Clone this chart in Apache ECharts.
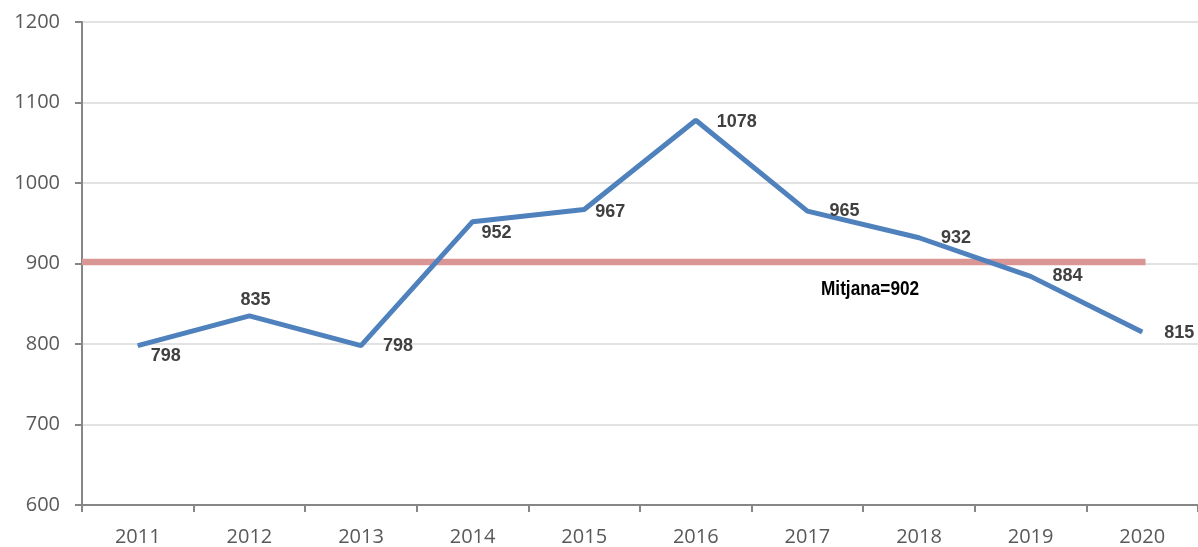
<!DOCTYPE html>
<html>
<head>
<meta charset="utf-8">
<script src="https://cdn.jsdelivr.net/npm/echarts@6/dist/echarts.min.js"></script>
<style>
  html, body { margin: 0; padding: 0; background: #fff; }
  #chart { width: 1198px; height: 547px; }
</style>
</head>
<body>
<div id="chart"></div>
<script>
"use strict";

// chart data
var years = ["2011", "2012", "2013", "2014", "2015", "2016", "2017", "2018", "2019", "2020"];
var values = [798, 835, 798, 952, 967, 1078, 965, 932, 884, 815];
var meanValue = 902;
var meanText = "Mitjana=902";
// where each data label sits relative to its point (pixels)
var labelOffsets = [[28, 10], [6, -16], [37, 0], [24, 11], [26, 2], [41, 2], [37, 0], [37, 0], [37, 0], [37, 1]];

var myChart = echarts.init(document.getElementById("chart"));

var lineData = values.map(function (v, i) {
  return {
    value: v,
    label: { offset: labelOffsets[i] }
  };
});

var option = {
  animation: false,
  grid: { left: 82, right: 0, top: 22, bottom: 40 },
  xAxis: [
    {
      type: "category",
      data: years,
      boundaryGap: true,
      axisLine: { lineStyle: { color: "#868686", width: 2 } },
      axisTick: { show: true, length: 7, lineStyle: { color: "#868686", width: 2 } },
      axisLabel: { color: "#595959", fontSize: 20, margin: 22, fontFamily: "Open Sans" },
      splitLine: { show: false }
    },
    {
      type: "value",
      min: 0,
      max: 10,
      show: false
    }
  ],
  yAxis: {
    type: "value",
    min: 600,
    max: 1200,
    interval: 100,
    axisLine: { show: true, lineStyle: { color: "#868686", width: 2 } },
    axisTick: { show: true, length: 7, lineStyle: { color: "#868686", width: 2 } },
    axisLabel: {
      color: "#595959",
      fontSize: 20,
      margin: 22,
      fontFamily: "Open Sans",
      formatter: function (v) { return String(v); }
    },
    splitLine: { lineStyle: { color: "#D9D9D9", width: 1.5 } }
  },
  series: [
    {
      name: "Mitjana",
      type: "line",
      xAxisIndex: 1,
      data: [[0, meanValue], [9.53, meanValue]],
      symbol: "none",
      lineStyle: { color: "#DA9694", width: 6.5 },
      z: 1
    },
    {
      type: "line",
      data: lineData,
      symbol: "circle",
      symbolSize: 1,
      itemStyle: { color: "#4F81BD" },
      lineStyle: { color: "#4F81BD", width: 5 },
      label: {
        show: true,
        position: "inside",
        color: "#404040",
        fontWeight: "bold",
        fontSize: 18,
        fontFamily: "Liberation Sans"
      },
      z: 2
    }
  ],
  graphic: [
    {
      type: "text",
      x: 821,
      y: 279,
      scaleX: 0.82,
      style: {
        text: meanText,
        fill: "#000",
        font: "bold 21px 'Liberation Sans'"
      }
    }
  ]
};

option && myChart.setOption(option);
window.onresize = function () {
  myChart.resize();
};
</script>
</body>
</html>
